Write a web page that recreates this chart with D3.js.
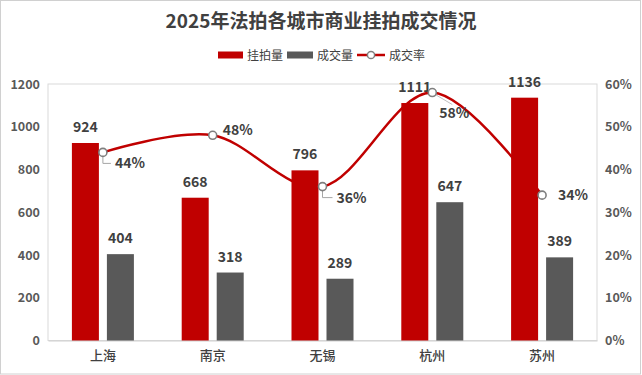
<!DOCTYPE html>
<html>
<head>
<meta charset="utf-8">
<script src="https://cdn.jsdelivr.net/npm/d3@7"></script>
<style>
  body { margin: 0; background: #fff; }
  svg text { font-family: "Noto Sans CJK SC", "Noto Sans", sans-serif; }
</style>
</head>
<body>
<div id="chart"></div>
<script>
const cities = ["上海", "南京", "无锡", "杭州", "苏州"],
      listed = [924, 668, 796, 1111, 1136],
      sold = [404, 318, 289, 647, 389],
      rate = [0.44, 0.48, 0.36, 0.58, 0.34],
      leftTicks = [0, 200, 400, 600, 800, 1000, 1200],
      rightTicks = [0, 0.1, 0.2, 0.3, 0.4, 0.5, 0.6]

const w = 642, h = 375,
      plot = {left: 48, right: 597, top: 84, bottom: 340.5},
      red = "#c00000", grey = "#595959", textCol = "#404040"

// where each rate label sits relative to its marker (Excel moved some by hand)
const rateLabelPos = [
  {dx: 12, dy: 11, leader: "elbow"},
  {dx: 10, dy: -5, leader: null},
  {dx: 14, dy: 11, leader: "elbow"},
  {dx: 7, dy: 20, leader: "diag"},
  {dx: 16, dy: 0, leader: null}
]

const svg = d3.select("#chart").append("svg")
  .attr("width", w)
  .attr("height", h)

// outer frame
svg.append("rect")
  .attr("x", 0.5).attr("y", 0.5)
  .attr("width", w - 2).attr("height", h - 1.5)
  .attr("fill", "#fff")
  .attr("stroke", "#d0d0d0")

const x0 = d3.scaleBand()
  .domain(cities)
  .range([plot.left, plot.right])

const bw = x0.bandwidth()
const x1 = d3.scaleBand()
  .domain(["listed", "sold"])
  .range([bw / 2 - 31, bw / 2 + 31])
  .paddingInner(8 / 35)

const y = d3.scaleLinear().domain([0, 1200]).range([plot.bottom, plot.top])
const yR = d3.scaleLinear().domain([0, 0.6]).range([plot.bottom, plot.top])

// plot area border
svg.append("rect")
  .attr("x", plot.left).attr("y", plot.top)
  .attr("width", plot.right - plot.left)
  .attr("height", plot.bottom - plot.top)
  .attr("fill", "none")
  .attr("stroke", "#d9d9d9")

// title
svg.append("text")
  .attr("x", w / 2).attr("y", 28)
  .attr("text-anchor", "middle")
  .attr("font-size", 19)
  .attr("font-weight", "bold")
  .attr("fill", textCol)
  .text("2025年法拍各城市商业挂拍成交情况")

// legend
const lg = svg.append("g").attr("font-size", 12).attr("fill", textCol)
lg.append("rect").attr("x", 218).attr("y", 51.5).attr("width", 25).attr("height", 7).attr("fill", red)
lg.append("text").attr("x", 247).attr("y", 59.5).text("挂拍量")
lg.append("rect").attr("x", 287).attr("y", 51.5).attr("width", 26).attr("height", 7).attr("fill", grey)
lg.append("text").attr("x", 317).attr("y", 59.5).text("成交量")
lg.append("line").attr("x1", 357).attr("x2", 385).attr("y1", 55).attr("y2", 55)
  .attr("stroke", red).attr("stroke-width", 2.5)
lg.append("circle").attr("cx", 371).attr("cy", 55).attr("r", 3.6)
  .attr("fill", "#fff").attr("stroke", "#7f7f7f").attr("stroke-width", 1.5)
lg.append("text").attr("x", 389).attr("y", 59.5).text("成交率")

// axes
const axL = svg.append("g")
  .attr("transform", `translate(${plot.left},0)`)
  .call(d3.axisLeft(y).tickValues(leftTicks).tickSize(0).tickPadding(8).tickFormat(d3.format("d")))
const axR = svg.append("g")
  .attr("transform", `translate(${plot.right},0)`)
  .call(d3.axisRight(yR).tickValues(rightTicks).tickSize(0).tickPadding(8).tickFormat(d3.format(".0%")))
const axB = svg.append("g")
  .attr("transform", `translate(0,${plot.bottom})`)
  .call(d3.axisBottom(x0).tickSize(0).tickPadding(10))

;[axL, axR].forEach(a => {
  a.select(".domain").remove()
  a.selectAll("text")
    .attr("font-size", 12.5)
    .attr("font-weight", "bold")
    .attr("fill", grey)
    .attr("font-family", "'Noto Sans', sans-serif")
})
axB.select(".domain").attr("stroke", "#d0d0d0")
axB.selectAll("text")
  .attr("font-size", 13)
  .attr("font-weight", 500)
  .attr("fill", textCol)

// rate line goes behind the bars
const pts = rate.map((r, i) => [x0(cities[i]) + bw / 2, yR(r)])
svg.append("path")
  .datum(pts)
  .attr("fill", "none")
  .attr("stroke", red)
  .attr("stroke-width", 2.5)
  .attr("d", d3.line().curve(d3.curveCatmullRom.alpha(0)))

// bars
const groups = svg.append("g").selectAll("g")
  .data(cities)
  .join("g")
  .attr("transform", d => `translate(${x0(d)},0)`)

groups.append("rect")
  .attr("x", x1("listed"))
  .attr("width", x1.bandwidth())
  .attr("y", (d, i) => y(listed[i]))
  .attr("height", (d, i) => plot.bottom - y(listed[i]))
  .attr("fill", red)

groups.append("rect")
  .attr("x", x1("sold"))
  .attr("width", x1.bandwidth())
  .attr("y", (d, i) => y(sold[i]))
  .attr("height", (d, i) => plot.bottom - y(sold[i]))
  .attr("fill", grey)

// bar value labels
const valStyle = s => s
  .attr("text-anchor", "middle")
  .attr("font-size", 14)
  .attr("font-weight", "bold")
  .attr("fill", textCol)
  .attr("font-family", "'Noto Sans', sans-serif")

groups.append("text")
  .attr("x", x1("listed") + x1.bandwidth() / 2)
  .attr("y", (d, i) => y(listed[i]) - 11)
  .text((d, i) => listed[i])
  .call(valStyle)

groups.append("text")
  .attr("x", x1("sold") + x1.bandwidth() / 2)
  .attr("y", (d, i) => y(sold[i]) - 11)
  .text((d, i) => sold[i])
  .call(valStyle)

// leader lines + rate labels
pts.forEach(([px, py], i) => {
  const p = rateLabelPos[i]
  if (p.leader === "elbow") {
    svg.append("path")
      .attr("d", `M${px},${py + 3}V${py + p.dy}H${px + p.dx - 4}`)
      .attr("fill", "none")
      .attr("stroke", "#a6a6a6")
      .attr("stroke-width", 1)
  } else if (p.leader === "diag") {
    svg.append("line")
      .attr("x1", px + 3).attr("y1", py + 2)
      .attr("x2", px + 20).attr("y2", py + 12)
      .attr("stroke", "#bfbfbf")
      .attr("stroke-width", 1)
  }
  svg.append("text")
    .attr("x", px + p.dx)
    .attr("y", py + p.dy)
    .attr("dy", "0.36em")
    .attr("font-size", 14)
    .attr("font-weight", "bold")
    .attr("fill", textCol)
    .attr("font-family", "'Noto Sans', sans-serif")
    .text(d3.format(".0%")(rate[i]))
})

// markers on top
svg.append("g").selectAll("circle")
  .data(pts)
  .join("circle")
  .attr("cx", d => d[0])
  .attr("cy", d => d[1])
  .attr("r", 4)
  .attr("fill", "#fff")
  .attr("stroke", "#7f7f7f")
  .attr("stroke-width", 1.6)
</script>
</body>
</html>
